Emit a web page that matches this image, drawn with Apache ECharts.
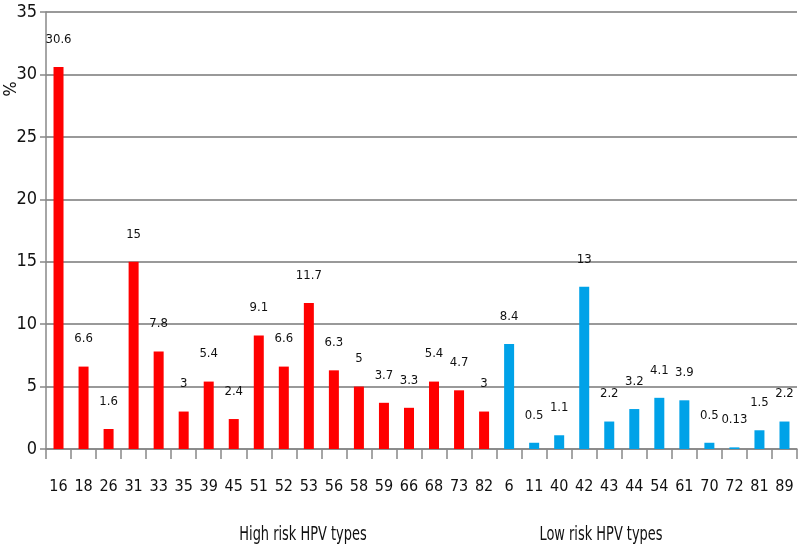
<!DOCTYPE html>
<html><head><meta charset="utf-8">
<script src="https://cdn.jsdelivr.net/npm/echarts@6/dist/echarts.min.js"></script>
<style>html,body{margin:0;padding:0;background:#fff}#c{width:800px;height:550px}</style>
</head><body><div id="c"></div>
<script>
const highTypes = ['16','18','26','31','33','35','39','45','51','52','53','56','58','59','66','68','73','82'];
const highValues = [30.6, 6.6, 1.6, 15, 7.8, 3, 5.4, 2.4, 9.1, 6.6, 11.7, 6.3, 5, 3.7, 3.3, 5.4, 4.7, 3];
const lowTypes = ['6','11','40','42','43','44','54','61','70','72','81','89'];
const lowValues = [8.4, 0.5, 1.1, 13, 2.2, 3.2, 4.1, 3.9, 0.5, 0.13, 1.5, 2.2];
const yTicks = [0, 5, 10, 15, 20, 25, 30, 35];
const groupLabels = ['High risk HPV types', 'Low risk HPV types'];
const yName = '%';

const FONT = "'DejaVu Sans Condensed','Liberation Sans Narrow','Noto Sans',sans-serif";
const categories = highTypes.concat(lowTypes);
const highData = highValues.concat(lowTypes.map(() => '-'));
const lowData = highTypes.map(() => '-').concat(lowValues);

const chart = echarts.init(document.getElementById('c'), null, {renderer: 'canvas'});
const labelCfg = {
  show: true, position: 'top', distance: 21, color: '#111',
  fontFamily: FONT, fontSize: 13,
  formatter: p => String(p.value)
};
chart.setOption({
  animation: false,
  backgroundColor: '#fff',
  grid: {left: 46, right: 3, top: 12, bottom: 101, containLabel: false},
  xAxis: {
    type: 'category', data: categories, boundaryGap: true,
    axisLine: {lineStyle: {color: '#888', width: 1.5}},
    axisTick: {show: true, length: 10, lineStyle: {color: '#888', width: 1.5}},
    axisLabel: {color: '#111', fontFamily: FONT, fontSize: 16, margin: 30, interval: 0}
  },
  yAxis: {
    type: 'value', min: yTicks[0], max: yTicks[yTicks.length - 1], interval: 5,
    axisLine: {show: true, lineStyle: {color: '#888', width: 1.5}},
    axisTick: {show: true, length: 6, lineStyle: {color: '#888', width: 1.5}},
    splitLine: {show: true, lineStyle: {color: '#777', width: 1.5}},
    axisLabel: {color: '#111', fontFamily: FONT, fontSize: 18, margin: 9}
  },
  series: [
    {type: 'bar', data: highData, barWidth: 10, barGap: '-100%',
     itemStyle: {color: '#ff0000'}, label: labelCfg},
    {type: 'bar', data: lowData, barWidth: 10,
     itemStyle: {color: '#00a2e8'}, label: labelCfg}
  ],
  graphic: [
    {type: 'text', x: 303, y: 535, scaleX: 0.72, style: {text: groupLabels[0], font: "20px " + FONT, fill: '#111', align: 'center', verticalAlign: 'middle'}},
    {type: 'text', x: 601, y: 535, scaleX: 0.72, style: {text: groupLabels[1], font: "20px " + FONT, fill: '#111', align: 'center', verticalAlign: 'middle'}},
    {type: 'text', x: 8, y: 89, rotation: -Math.PI / 2, style: {text: yName, font: "18px " + FONT, fill: '#111', align: 'center', verticalAlign: 'middle'}}
  ]
});
</script></body></html>
